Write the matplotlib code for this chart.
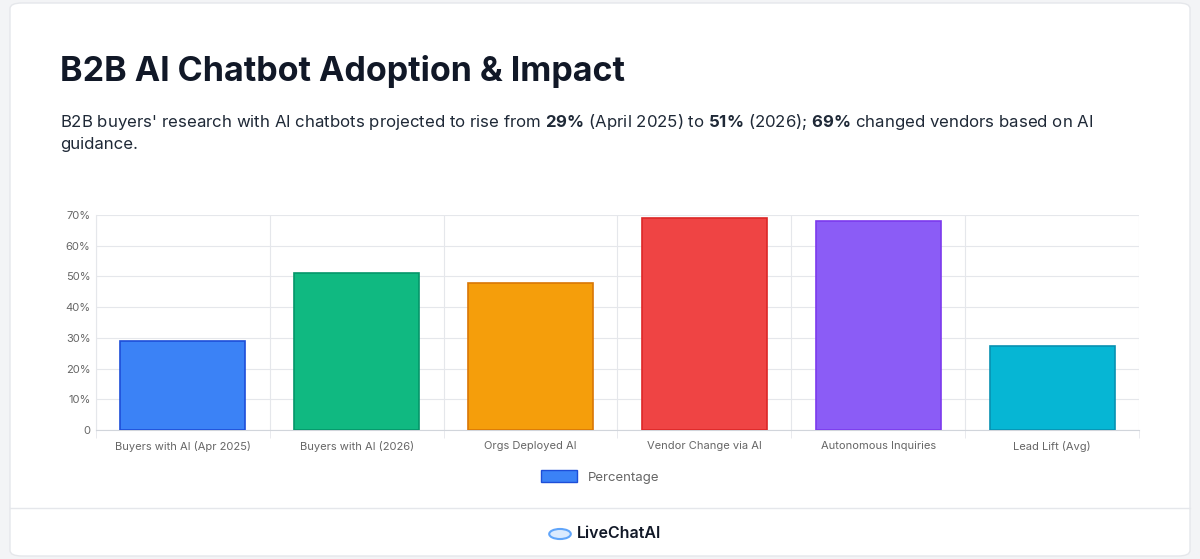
import matplotlib
matplotlib.use("Agg")
import matplotlib.pyplot as plt
from matplotlib.patches import FancyBboxPatch, Patch
from matplotlib.ticker import FuncFormatter

categories = ["Buyers with AI (Apr 2025)", "Buyers with AI (2026)", "Orgs Deployed AI",
              "Vendor Change via AI", "Autonomous Inquiries", "Lead Lift (Avg)"]
values = [29, 51, 48, 69, 68, 27.5]
colors = ["#3b82f6", "#10b981", "#f59e0b", "#ef4444", "#8b5cf6", "#06b6d4"]
edges = ["#1d4ed8", "#059669", "#d97706", "#dc2626", "#7c3aed", "#0891b2"]

plt.rcParams['font.family'] = ['Inter', 'DejaVu Sans']
plt.rcParams['mathtext.fontset'] = 'custom'
plt.rcParams['mathtext.bf'] = 'Inter:bold'
plt.rcParams['mathtext.rm'] = 'Inter'
fig = plt.figure(figsize=(12, 5.59), dpi=100)
fig.patch.set_facecolor("#f3f4f6")
card = FancyBboxPatch((10/1200, 3/559), 1180/1200, 553/559, boxstyle="round,pad=0,rounding_size=0.01",
                      transform=fig.transFigure, facecolor="white", edgecolor="#e5e7eb", lw=1, zorder=-10)
fig.patches.append(card)
fig.add_artist(plt.Line2D([10/1200, 1190/1200], [1-508/559]*2, color="#e5e7eb", lw=1, transform=fig.transFigure))

fig.text(60/1200, 1-72/559, "B2B AI Chatbot Adoption & Impact", fontsize=24.5, fontweight="bold",
         color="#111827", va="center")
fig.text(60/1200, 1-122/559, r"B2B buyers' research with AI chatbots projected to rise from $\bf{29\%}$ (April 2025) to $\bf{51\%}$ (2026); $\bf{69\%}$ changed vendors based on AI",
         fontsize=12.1, color="#1f2937", va="center")
fig.text(60/1200, 1-145/559, "guidance.", fontsize=12.1, color="#1f2937", va="center")

ax = fig.add_axes([96/1200, 1-430/559, 1043/1200, 215/559])
ax.set_facecolor("white")
x = range(len(categories))
ax.bar(x, values, width=0.72, color=colors, edgecolor=edges, linewidth=1.2, zorder=3)
ax.set_xlim(-0.5, len(categories)-0.5)
ax.set_ylim(0, 70)
ax.set_yticks(range(0, 71, 10))
ax.yaxis.set_major_formatter(FuncFormatter(lambda v, p: "0" if v == 0 else f"{int(v)}%"))
ax.set_xticks(list(x))
ax.set_xticklabels(categories)
ax.set_xticks([i+0.5 for i in range(-1, len(categories))], minor=True)
ax.grid(True, which="minor", axis="x", color="#e5e7eb", lw=0.8)
ax.grid(True, which="major", axis="y", color="#e5e7eb", lw=0.8)
ax.tick_params(axis="both", which="major", labelsize=8, colors="#666666", length=0, pad=8)
ax.tick_params(axis="x", which="minor", length=6, color="#e5e7eb")
ax.tick_params(axis="y", pad=4)
for s in ["top", "right"]:
    ax.spines[s].set_visible(False)
ax.spines["left"].set_color("#e5e7eb")
ax.spines["bottom"].set_color("#d1d5db")

leg = fig.legend(handles=[Patch(facecolor="#3b82f6", edgecolor="#1d4ed8", label="Percentage")],
                 loc="center", bbox_to_anchor=(600/1200, 1-477/559), frameon=False,
                 fontsize=9.5, handlelength=2.8, handleheight=1.0)
for t in leg.get_texts():
    t.set_color("#666666")

fig.add_artist(plt.Circle((560/1200, 1-534/559), 0.009, transform=fig.transFigure,
                          facecolor="#dbeafe", edgecolor="#60a5fa", lw=1.5, zorder=5))
fig.text(577/1200, 1-534/559, "LiveChatAI", fontsize=11.5, fontweight="semibold", color="#111827", va="center")

fig.savefig("out.png", dpi=100, facecolor=fig.get_facecolor())
